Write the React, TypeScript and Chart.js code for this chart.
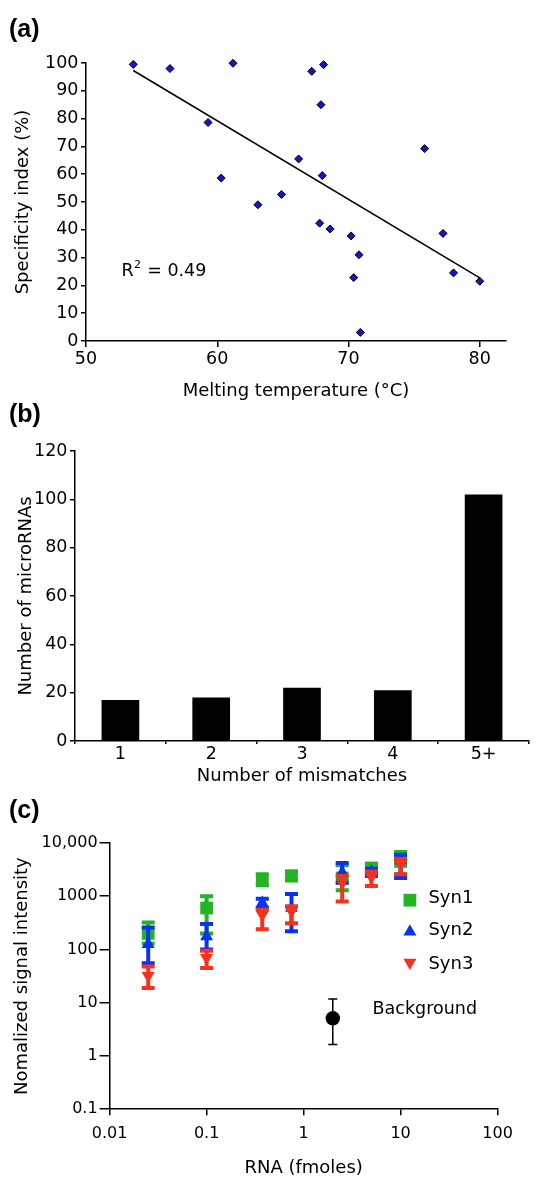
import React, { useEffect, useRef } from 'react';
import { Chart, registerables } from 'chart.js';

Chart.register(...registerables);

const FONT = 'DejaVu Sans';

// ---------- Panel (a): specificity vs melting temperature ----------
const meltTemp = [53.6, 56.4, 61.2, 59.3, 60.3, 63.1, 64.9, 66.2, 67.2, 68.1, 67.9, 68.0, 67.8, 68.6, 70.2, 70.8, 70.4, 70.9, 75.8, 77.2, 78.0, 80.0];
const specIndex = [99.5, 98.0, 99.9, 78.6, 58.6, 49.0, 52.7, 65.5, 97.0, 99.4, 85.0, 59.5, 42.4, 40.3, 37.8, 31.0, 22.8, 3.1, 69.2, 38.7, 24.5, 21.5];
const xTicksA = [50, 60, 70, 80];
const yTicksA = [0, 10, 20, 30, 40, 50, 60, 70, 80, 90, 100];
const r2Text = ['R', '2', ' = 0.49'];
const r2Anchor = [52.7, 23.5];

// ---------- Panel (b): mismatches histogram ----------
const mismatchCats = ['1', '2', '3', '4', '5+'];
const microRNACounts = [17, 18, 22, 21, 102];
const yTicksB = [0, 20, 40, 60, 80, 100, 120];

// ---------- Panel (c): signal vs RNA amount ----------
const rnaAmounts = [0.025, 0.1, 0.375, 0.75, 2.5, 5, 10];
const syn1Mean = [200, 600, 2000, 2400, 2200, 3400, 4500];
const syn1Low = [130, 200, 1600, 2000, 1300, 2800, 2600];
const syn1High = [320, 1000, 2600, 2900, 3800, 4000, 6800];
const syn2Mean = [125, 175, 750, 600, 2800, 2900, 4700];
const syn2Low = [55, 100, 600, 220, 1800, 2400, 2200];
const syn2High = [260, 300, 900, 1100, 4200, 3300, 6000];
const syn3Mean = [32, 70, 450, 520, 1800, 2300, 4000];
const syn3Low = [19, 45, 240, 310, 800, 1550, 2600];
const syn3High = [48, 95, 560, 650, 2400, 2900, 5000];
const bgAmount = [2];
const bgMean = [5.1];
const bgLow = [1.64];
const bgHigh = [11.8];
const seriesNames = ['Syn1', 'Syn2', 'Syn3'];
const bgName = 'Background';
const xTicksC = [0.01, 0.1, 1, 10, 100];
const xTickLabelsC = ['0.01', '0.1', '1', '10', '100'];
const yTicksC = [0.1, 1, 10, 100, 1000, 10000];
const yTickLabelsC = ['0.1', '1', '10', '100', '1000', '10,000'];

const GREEN = '#22b422';
const BLUE = '#0a32f5';
const RED = '#f5321e';

function axis(tickLen: number, tickPad: number, size: number, extra: any = {}) {
  return {
    border: { display: true, color: '#000', width: 1.5 },
    grid: { display: true, drawOnChartArea: false, drawTicks: true, tickLength: tickLen, color: '#000', lineWidth: 1.5 },
    ticks: { color: '#000', padding: tickPad, font: { family: FONT, size }, maxRotation: 0, autoSkip: false },
    ...extra,
  };
}

function title(text: string, size: number, padding: any) {
  return { display: true, text, color: '#000', font: { family: FONT, size }, padding };
}

// ---------- plugins ----------
const r2Plugin = {
  id: 'r2Label',
  afterDatasetsDraw(chart: any) {
    const { ctx, scales } = chart;
    const x = scales.x.getPixelForValue(r2Anchor[0]);
    const y = scales.y.getPixelForValue(r2Anchor[1]);
    ctx.save();
    ctx.fillStyle = '#000';
    ctx.textAlign = 'left';
    ctx.textBaseline = 'alphabetic';
    ctx.font = `17.5px "${FONT}"`;
    ctx.fillText(r2Text[0], x, y);
    const w1 = ctx.measureText(r2Text[0]).width;
    ctx.font = `11px "${FONT}"`;
    ctx.fillText(r2Text[1], x + w1 + 0.5, y - 7.5);
    const w2 = ctx.measureText(r2Text[1]).width;
    ctx.font = `17.5px "${FONT}"`;
    ctx.fillText(r2Text[2], x + w1 + w2 + 1, y);
    ctx.restore();
  },
};

const errorBarPlugin = {
  id: 'errorBars',
  beforeDatasetDraw(chart: any, args: any) {
    const ds = chart.data.datasets[args.index];
    if (!ds.errLow) return;
    const { ctx, scales } = chart;
    ctx.save();
    ctx.strokeStyle = ds.errColor;
    ctx.lineWidth = ds.errWidth;
    ctx.lineCap = 'butt';
    ds.data.forEach((p: any, i: number) => {
      const x = scales.x.getPixelForValue(p.x);
      const yl = scales.y.getPixelForValue(ds.errLow[i]);
      const yh = scales.y.getPixelForValue(ds.errHigh[i]);
      const c = ds.errCap;
      ctx.beginPath();
      ctx.moveTo(x, yl);
      ctx.lineTo(x, yh);
      ctx.moveTo(x - c, yl);
      ctx.lineTo(x + c, yl);
      ctx.moveTo(x - c, yh);
      ctx.lineTo(x + c, yh);
      ctx.stroke();
    });
    ctx.restore();
  },
};

const legendCPlugin = {
  id: 'legendC',
  afterDraw(chart: any) {
    const { ctx, chartArea, scales } = chart;
    const mx = chartArea.left + 0.774 * (chartArea.right - chartArea.left);
    const rows = [57.2, 88.7, 119.6];
    const baselines = [60.2, 91.9, 126.2];
    const styles = [
      { style: 'rect', r: 9, rot: 0, color: GREEN },
      { style: 'triangle', r: 7.5, rot: 0, color: BLUE },
      { style: 'triangle', r: 7.5, rot: 180, color: RED },
    ];
    ctx.save();
    styles.forEach((s, i) => {
      ctx.fillStyle = s.color;
      ctx.strokeStyle = s.color;
      ctx.lineWidth = 0;
      (Chart as any).helpers?.drawPoint;
      drawMarker(ctx, s.style, s.r, s.rot, mx, chartArea.top + rows[i]);
      ctx.fillStyle = '#000';
      ctx.font = `18px "${FONT}"`;
      ctx.textAlign = 'left';
      ctx.textBaseline = 'alphabetic';
      ctx.fillText(seriesNames[i], mx + 18.5, chartArea.top + baselines[i]);
    });
    // Background label next to its point
    const bx = scales.x.getPixelForValue(bgAmount[0]);
    const by = scales.y.getPixelForValue(bgMean[0]);
    ctx.fillStyle = '#000';
    ctx.font = `17.5px "${FONT}"`;
    ctx.fillText(bgName, bx + 39.8, by - 3.8);
    ctx.restore();
  },
};

function drawMarker(ctx: CanvasRenderingContext2D, style: string, r: number, rot: number, x: number, y: number) {
  ctx.beginPath();
  if (style === 'rect') {
    const s = Math.SQRT1_2 * r;
    ctx.rect(x - s, y - s, 2 * s, 2 * s);
  } else {
    let rad = (rot * Math.PI) / 180;
    ctx.moveTo(x + Math.sin(rad) * r, y - Math.cos(rad) * r);
    rad += (2 * Math.PI) / 3;
    ctx.lineTo(x + Math.sin(rad) * r, y - Math.cos(rad) * r);
    rad += (2 * Math.PI) / 3;
    ctx.lineTo(x + Math.sin(rad) * r, y - Math.cos(rad) * r);
    ctx.closePath();
  }
  ctx.fill();
}

// ---------- configs ----------
function configA(): any {
  const n = meltTemp.length;
  let sx = 0, sy = 0, sxx = 0, sxy = 0;
  for (let i = 0; i < n; i++) {
    sx += meltTemp[i];
    sy += specIndex[i];
    sxx += meltTemp[i] * meltTemp[i];
    sxy += meltTemp[i] * specIndex[i];
  }
  const slope = (n * sxy - sx * sy) / (n * sxx - sx * sx);
  const icpt = (sy - slope * sx) / n;
  const xMin = Math.min(...meltTemp);
  const xMax = Math.max(...meltTemp);
  return {
    type: 'scatter',
    data: {
      datasets: [
        {
          data: meltTemp.map((x, i) => ({ x, y: specIndex[i] })),
          pointStyle: 'rectRot',
          pointRadius: 4,
          backgroundColor: '#1414c8',
          borderColor: '#000',
          borderWidth: 1,
          clip: false,
        },
        {
          data: [
            { x: xMin, y: icpt + slope * xMin },
            { x: xMax, y: icpt + slope * xMax },
          ],
          showLine: true,
          borderColor: '#000',
          borderWidth: 1.5,
          pointRadius: 0,
          clip: false,
        },
      ],
    },
    options: {
      responsive: false,
      animation: false,
      events: [],
      layout: { padding: { top: 63, right: 31, bottom: 0, left: 0 } },
      plugins: { legend: { display: false }, tooltip: { enabled: false } },
      scales: {
        x: axis(6, 2.3, 17.5, {
          type: 'linear',
          min: 50,
          max: 82,
          afterBuildTicks: (s: any) => { s.ticks = xTicksA.map((v) => ({ value: v })); },
          afterFit: (s: any) => { s.height = 61; },
          title: title('Melting temperature (°C)', 18, { top: 0, bottom: 0 }),
        }),
        y: axis(5, 2.5, 17.5, {
          type: 'linear',
          min: 0,
          max: 100,
          afterBuildTicks: (s: any) => { s.ticks = yTicksA.map((v) => ({ value: v })); },
          afterFit: (s: any) => { s.width = 86; },
          title: title('Specificity index (%)', 18, { top: 12.4, bottom: 0 }),
        }),
      },
    },
    plugins: [r2Plugin],
  };
}

function configB(): any {
  return {
    type: 'bar',
    data: {
      labels: mismatchCats,
      datasets: [
        {
          data: microRNACounts,
          backgroundColor: '#000',
          borderWidth: 0,
          barPercentage: 0.415,
          categoryPercentage: 1,
        },
      ],
    },
    options: {
      responsive: false,
      animation: false,
      events: [],
      layout: { padding: { top: 49, right: 8, bottom: 0, left: 0 } },
      plugins: { legend: { display: false }, tooltip: { enabled: false } },
      scales: {
        x: axis(3, 0, 17.5, {
          afterFit: (s: any) => { s.height = 59; },
          title: title('Number of mismatches', 18, { top: 0, bottom: 12.7 }),
        }),
        y: axis(5, 2.5, 17.5, {
          min: 0,
          max: 120,
          afterBuildTicks: (s: any) => { s.ticks = yTicksB.map((v) => ({ value: v })); },
          afterFit: (s: any) => { s.width = 75; },
          title: title('Number of microRNAs', 18, { top: 15.4, bottom: 0 }),
        }),
      },
    },
  };
}

function configC(): any {
  const mk = (mean: number[]) => rnaAmounts.map((x, i) => ({ x, y: mean[i] }));
  return {
    type: 'scatter',
    data: {
      datasets: [
        {
          label: seriesNames[0],
          data: mk(syn1Mean),
          pointStyle: 'rect',
          pointRadius: 9,
          backgroundColor: GREEN,
          borderWidth: 0,
          order: 3,
          errLow: syn1Low, errHigh: syn1High, errColor: GREEN, errWidth: 4, errCap: 6.5,
          clip: false,
        },
        {
          label: seriesNames[1],
          data: mk(syn2Mean),
          pointStyle: 'triangle',
          pointRadius: 7.5,
          backgroundColor: BLUE,
          borderWidth: 0,
          order: 2,
          errLow: syn2Low, errHigh: syn2High, errColor: BLUE, errWidth: 4, errCap: 6.5,
          clip: false,
        },
        {
          label: seriesNames[2],
          data: mk(syn3Mean),
          pointStyle: 'triangle',
          rotation: 180,
          pointRadius: 7.5,
          backgroundColor: RED,
          borderWidth: 0,
          order: 1,
          errLow: syn3Low, errHigh: syn3High, errColor: RED, errWidth: 4, errCap: 6.5,
          clip: false,
        },
        {
          label: bgName,
          data: bgAmount.map((x, i) => ({ x, y: bgMean[i] })),
          pointStyle: 'circle',
          pointRadius: 7.2,
          backgroundColor: '#000',
          borderWidth: 0,
          order: 0,
          errLow: bgLow, errHigh: bgHigh, errColor: '#000', errWidth: 1.5, errCap: 4.5,
          clip: false,
        },
      ],
    },
    options: {
      responsive: false,
      animation: false,
      events: [],
      layout: { padding: { top: 43, right: 39.4, bottom: 0, left: 0 } },
      plugins: { legend: { display: false }, tooltip: { enabled: false } },
      scales: {
        x: axis(6, 9.4, 16, {
          type: 'logarithmic',
          min: 0.01,
          max: 100,
          afterBuildTicks: (s: any) => { s.ticks = xTicksC.map((v) => ({ value: v })); },
          afterFit: (s: any) => { s.height = 87.8; },
          ticks: { color: '#000', padding: 9.4, font: { family: FONT, size: 16 }, maxRotation: 0, autoSkip: false, callback: (_v: any, i: number) => xTickLabelsC[i] },
          title: title('RNA (fmoles)', 18, { top: 0, bottom: 18.2 }),
        }),
        y: axis(10, 2, 16, {
          type: 'logarithmic',
          min: 0.1,
          max: 10000,
          afterBuildTicks: (s: any) => { s.ticks = yTicksC.map((v) => ({ value: v })); },
          afterFit: (s: any) => { s.width = 109.6; },
          ticks: { color: '#000', padding: 2, font: { family: FONT, size: 16 }, maxRotation: 0, autoSkip: false, callback: (_v: any, i: number) => yTickLabelsC[i] },
          title: title('Nomalized signal intensity', 18, { top: 11.1, bottom: 0 }),
        }),
      },
    },
    plugins: [errorBarPlugin, legendCPlugin],
  };
}

function Panel({ top, height, make }: { top: number; height: number; make: () => any }) {
  const ref = useRef<HTMLCanvasElement>(null);
  useEffect(() => {
    const chart = new Chart(ref.current as HTMLCanvasElement, make());
    return () => chart.destroy();
  }, []);
  return (
    <canvas
      ref={ref}
      width={537}
      height={height}
      style={{ position: 'absolute', left: 0, top, width: 537, height }}
    />
  );
}

const labelStyle: React.CSSProperties = {
  position: 'absolute',
  left: 9,
  fontFamily: '"Liberation Sans", Arial, sans-serif',
  fontWeight: 'bold',
  fontSize: 25,
  lineHeight: '25px',
  color: '#000',
};

export default function App() {
  return (
    <div style={{ position: 'absolute', left: 0, top: 0, width: 537, height: 1197, background: '#fff', overflow: 'hidden' }}>
      <Panel top={0} height={402} make={configA} />
      <Panel top={402} height={398} make={configB} />
      <Panel top={800} height={397} make={configC} />
      <div style={{ ...labelStyle, top: 15.8 }}>(a)</div>
      <div style={{ ...labelStyle, top: 400.7 }}>(b)</div>
      <div style={{ ...labelStyle, top: 797.3 }}>(c)</div>
    </div>
  );
}
